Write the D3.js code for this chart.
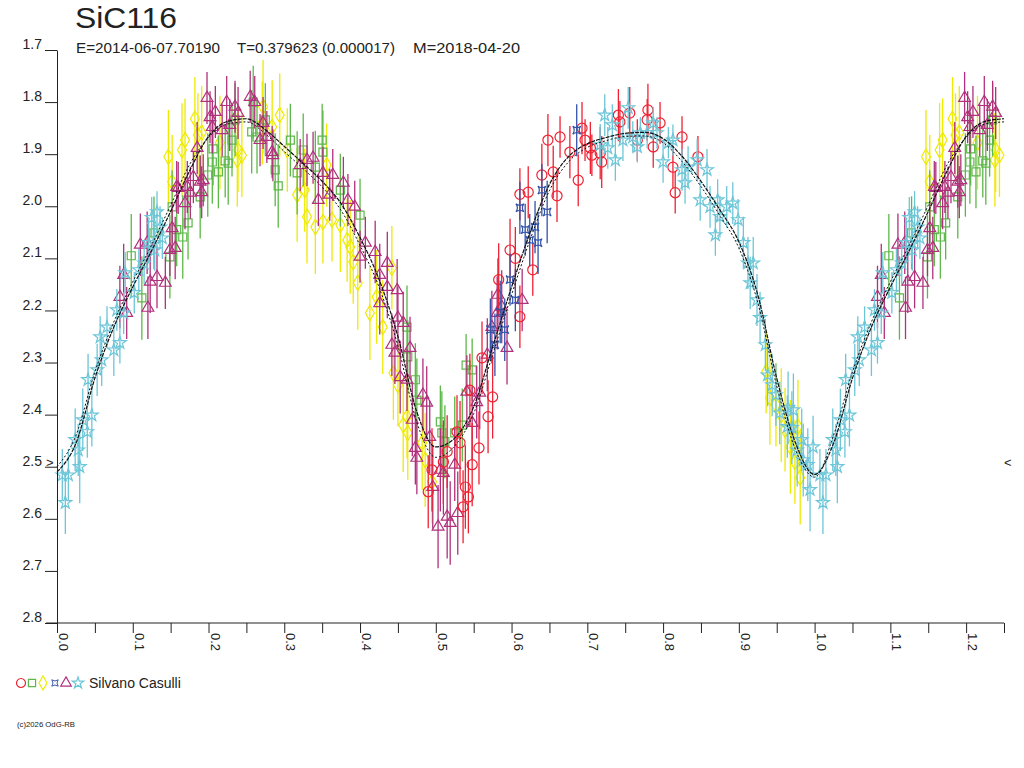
<!DOCTYPE html>
<html>
<head>
<meta charset="utf-8">
<script src="https://cdn.jsdelivr.net/npm/d3@7"></script>
<style>
  body { margin: 0; background: white; }
  svg text { font-family: "Liberation Sans", Arial, sans-serif; fill: #222; }
</style>
</head>
<body>
<svg id="chart" width="1024" height="768"></svg>
<script>
// Light curve data: [phase, magnitude, error]
var obsRed = [
  [0.598,2.084,0.06],[0.628,2.122,0.05],[0.583,2.141,0.07],[0.611,2.212,0.06],[0.561,2.291,0.07],
  [0.575,2.366,0.08],[0.569,2.404,0.07],[0.557,2.464,0.07],[0.548,2.496,0.08],[0.528,2.433,0.07],
  [0.532,2.454,0.08],[0.543,2.558,0.07],[0.539,2.539,0.08],[0.490,2.548,0.07],[0.495,2.506,0.08],
  [0.510,2.491,0.08],[0.515,2.471,0.07],[0.536,2.577,0.07],[0.622,1.973,0.05],[0.640,1.940,0.06],
  [0.655,1.934,0.05],[0.660,1.980,0.05],[0.648,1.873,0.05],[0.664,1.867,0.04],[0.677,1.896,0.05],
  [0.693,1.850,0.05],[0.688,1.950,0.05],[0.697,1.873,0.04],[0.704,1.888,0.05],[0.706,1.902,0.04],
  [0.719,1.915,0.05],[0.741,1.825,0.05],[0.743,1.838,0.04],[0.756,1.821,0.05],[0.780,1.815,0.05],
  [0.779,1.834,0.04],[0.796,1.840,0.04],[0.766,1.873,0.04],[0.787,1.886,0.04],[0.813,1.925,0.04],
  [0.825,1.867,0.04],[0.846,1.905,0.04],[0.816,1.974,0.04],[0.717,1.898,0.05],[0.611,1.977,0.05],
  [0.545,2.353,0.07],[0.605,2.100,0.06]
];
var obsGreen = [
  [0.098,2.095,0.08],[0.112,2.176,0.08],[0.128,2.051,0.07],[0.149,2.097,0.08],[0.158,2.045,0.07],
  [0.166,2.059,0.08],[0.173,2.032,0.07],[0.189,1.982,0.08],[0.206,1.890,0.07],[0.205,1.915,0.08],
  [0.213,1.934,0.07],[0.199,1.940,0.08],[0.222,1.913,0.07],[0.226,1.917,0.08],[0.231,1.873,0.07],
  [0.235,1.834,0.07],[0.257,1.857,0.08],[0.259,1.800,0.07],[0.264,1.867,0.07],[0.292,1.961,0.08],
  [0.288,1.930,0.07],[0.308,1.873,0.07],[0.317,1.936,0.08],[0.325,1.892,0.07],[0.350,1.873,0.07],
  [0.351,1.896,0.08],[0.152,2.001,0.07],[0.275,1.834,0.07],[0.341,1.925,0.07],[0.374,1.969,0.07],
  [0.400,2.017,0.07],[0.462,2.232,0.08],[0.463,2.289,0.07],[0.473,2.333,0.07],[0.475,2.372,0.08],
  [0.506,2.414,0.07],[0.508,2.435,0.08],[0.512,2.452,0.07],[0.540,2.305,0.06],[0.548,2.314,0.06],
  [0.525,2.435,0.07],[0.535,2.420,0.07]
];
var obsYellow = [
  [0.147,1.905,0.09],[0.182,1.832,0.08],[0.191,1.859,0.09],[0.169,1.873,0.08],[0.165,1.892,0.09],
  [0.152,1.953,0.09],[0.186,1.863,0.08],[0.215,1.878,0.09],[0.239,1.892,0.08],[0.238,1.911,0.09],
  [0.244,1.902,0.08],[0.272,1.809,0.09],[0.294,1.825,0.08],[0.271,1.840,0.08],[0.284,1.848,0.09],
  [0.304,1.892,0.08],[0.317,1.978,0.09],[0.327,1.969,0.08],[0.356,1.921,0.08],[0.330,2.020,0.09],
  [0.341,2.040,0.09],[0.351,2.030,0.08],[0.363,2.026,0.08],[0.374,2.036,0.09],[0.383,2.065,0.08],
  [0.387,2.078,0.09],[0.391,2.107,0.08],[0.397,2.147,0.09],[0.413,2.205,0.09],[0.442,2.118,0.08],
  [0.422,2.174,0.09],[0.430,2.232,0.09],[0.444,2.320,0.09],[0.450,2.343,0.08],[0.457,2.420,0.09],
  [0.463,2.435,0.09],[0.462,2.404,0.08],[0.482,2.454,0.09],[0.486,2.487,0.09],[0.495,2.529,0.08],
  [0.936,2.318,0.08],[0.941,2.368,0.09],[0.949,2.381,0.08],[0.956,2.401,0.09],[0.968,2.462,0.09],
  [0.974,2.491,0.08],[0.981,2.521,0.09],[0.978,2.423,0.09],[0.961,2.429,0.08]
];
var obsBlue = [
  [0.686,1.854,0.05],[0.640,1.969,0.05],[0.611,2.003,0.05],[0.647,2.011,0.06],[0.631,2.040,0.05],
  [0.635,2.070,0.06],[0.618,2.045,0.05],[0.585,2.203,0.06],[0.591,2.237,0.06],[0.578,2.266,0.06],
  [0.598,2.141,0.05],[0.624,2.065,0.05],[0.605,2.180,0.06],[0.572,2.237,0.06]
];
var obsPurple = [
  [0.110,2.074,0.06],[0.119,2.070,0.06],[0.123,2.145,0.06],[0.132,2.136,0.06],[0.143,2.147,0.05],
  [0.120,2.195,0.06],[0.088,2.132,0.06],[0.083,2.174,0.06],[0.092,2.205,0.05],[0.149,2.084,0.05],
  [0.156,2.080,0.06],[0.152,2.042,0.05],[0.169,1.994,0.05],[0.176,1.974,0.05],[0.158,1.963,0.05],
  [0.191,1.973,0.05],[0.189,1.953,0.05],[0.198,1.792,0.05],[0.224,1.800,0.05],[0.209,1.819,0.05],
  [0.202,1.829,0.05],[0.235,1.809,0.05],[0.255,1.790,0.05],[0.261,1.800,0.05],[0.239,1.821,0.05],
  [0.218,1.854,0.05],[0.205,1.848,0.05],[0.228,1.844,0.05],[0.185,1.888,0.05],[0.172,1.963,0.05],
  [0.180,1.944,0.05],[0.193,1.950,0.05],[0.160,1.965,0.05],[0.272,1.840,0.05],[0.268,1.873,0.05],
  [0.277,1.867,0.05],[0.285,1.902,0.05],[0.321,1.921,0.05],[0.330,1.911,0.05],[0.338,1.907,0.05],
  [0.351,1.936,0.05],[0.364,1.940,0.05],[0.378,1.955,0.05],[0.345,1.988,0.05],[0.360,1.978,0.05],
  [0.284,1.896,0.05],[0.384,1.988,0.05],[0.393,2.001,0.05],[0.407,2.070,0.05],[0.420,2.088,0.06],
  [0.400,2.097,0.05],[0.436,2.109,0.06],[0.426,2.132,0.06],[0.436,2.155,0.06],[0.426,2.186,0.06],
  [0.449,2.161,0.06],[0.450,2.214,0.06],[0.457,2.224,0.06],[0.442,2.266,0.06],[0.446,2.281,0.06],
  [0.466,2.272,0.06],[0.453,2.328,0.07],[0.462,2.333,0.06],[0.483,2.362,0.07],[0.488,2.377,0.07],
  [0.469,2.410,0.07],[0.473,2.464,0.07],[0.475,2.483,0.07],[0.492,2.443,0.07],[0.506,2.506,0.08],
  [0.496,2.539,0.08],[0.510,2.512,0.08],[0.503,2.615,0.08],[0.515,2.596,0.08],[0.519,2.608,0.08],
  [0.525,2.496,0.07],[0.529,2.589,0.08],[0.541,2.356,0.07],[0.548,2.416,0.07],[0.554,2.376,0.07],
  [0.558,2.358,0.07],[0.568,2.285,0.07],[0.574,2.232,0.07],[0.581,2.205,0.07],[0.587,2.193,0.07],
  [0.614,2.180,0.06],[0.594,2.272,0.07],[0.582,2.170,0.07]
];
var obsCyan = [
  [0.007,2.516,0.05],[0.011,2.569,0.06],[0.015,2.516,0.05],[0.024,2.448,0.06],[0.028,2.468,0.05],
  [0.030,2.500,0.07],[0.034,2.410,0.06],[0.040,2.433,0.05],[0.046,2.401,0.06],[0.041,2.333,0.05],
  [0.053,2.314,0.05],[0.059,2.295,0.05],[0.057,2.251,0.04],[0.066,2.232,0.04],[0.075,2.276,0.05],
  [0.083,2.262,0.04],[0.079,2.199,0.04],[0.088,2.205,0.04],[0.090,2.128,0.04],[0.102,2.166,0.04],
  [0.108,2.122,0.04],[0.115,2.109,0.04],[0.121,2.070,0.04],[0.128,2.070,0.04],[0.125,2.022,0.04],
  [0.132,2.011,0.04],[0.136,2.040,0.04],[0.139,2.061,0.04],[0.129,2.084,0.04],
  [0.723,1.825,0.04],[0.754,1.811,0.04],[0.733,1.844,0.04],[0.717,1.882,0.04],[0.727,1.888,0.04],
  [0.737,1.911,0.04],[0.747,1.873,0.04],[0.760,1.867,0.03],[0.770,1.859,0.03],[0.779,1.859,0.03],
  [0.787,1.840,0.03],[0.792,1.859,0.03],[0.766,1.886,0.03],[0.800,1.915,0.04],[0.807,1.878,0.03],
  [0.813,1.873,0.03],[0.825,1.930,0.04],[0.833,1.925,0.04],[0.829,1.955,0.04],[0.845,1.911,0.04],
  [0.858,1.930,0.04],[0.849,1.988,0.04],[0.862,2.001,0.04],[0.872,1.988,0.04],[0.884,2.001,0.04],
  [0.875,2.020,0.04],[0.869,2.055,0.04],[0.892,1.994,0.04],[0.899,2.026,0.04],[0.906,2.070,0.05],
  [0.912,2.109,0.05],[0.919,2.109,0.05],[0.915,2.147,0.05],[0.924,2.180,0.05],[0.928,2.214,0.05],
  [0.935,2.266,0.05],[0.938,2.324,0.06],[0.944,2.343,0.06],[0.949,2.362,0.06],[0.954,2.397,0.06],
  [0.965,2.387,0.07],[0.972,2.391,0.07],[0.964,2.423,0.06],[0.970,2.425,0.07],[0.983,2.448,0.06],
  [0.977,2.468,0.07],[0.985,2.487,0.07],[0.991,2.496,0.07],[0.994,2.544,0.08],[0.998,2.462,0.06]
];

// fitted curves, sampled every 0.025 in phase
var curvePhase = [0.000,0.025,0.050,0.075,0.100,0.125,0.150,0.175,0.200,0.225,0.250,0.275,0.300,0.325,
  0.350,0.375,0.400,0.425,0.450,0.475,0.500,0.525,0.550,0.575,0.600,0.625,0.650,0.675,0.700,0.725,
  0.750,0.775,0.800,0.825,0.850,0.875,0.900,0.925,0.950,0.975,1.000];
var curveA = [2.510,2.455,2.330,2.232,2.155,2.085,2.010,1.932,1.866,1.837,1.832,1.853,1.885,1.918,
  1.952,1.995,2.060,2.140,2.250,2.395,2.462,2.445,2.385,2.270,2.155,2.048,1.958,1.905,1.880,1.868,
  1.860,1.858,1.870,1.904,1.952,2.007,2.068,2.170,2.330,2.455,2.515];
var curveB = [2.500,2.440,2.318,2.222,2.145,2.074,1.998,1.920,1.868,1.842,1.838,1.861,1.895,1.928,
  1.963,2.008,2.075,2.155,2.268,2.415,2.482,2.460,2.398,2.285,2.170,2.062,1.970,1.915,1.887,1.874,
  1.866,1.865,1.878,1.914,1.962,2.018,2.080,2.185,2.345,2.468,2.520];

var magTicks = [1.7,1.8,1.9,2.0,2.1,2.2,2.3,2.4,2.5,2.6,2.7,2.8];
var phaseTicks = [0.0,0.1,0.2,0.3,0.4,0.5,0.6,0.7,0.8,0.9,1.0,1.1,1.2];
var phaseLabels = ["0.0","0.1","0.2","0.3","0.4","0.5","0.6","0.7","0.8","0.9","1.0","1.1","1.2"];
var minorTicks = [0.05,0.15,0.25,0.35,0.45,0.55,0.65,0.75,0.85,0.95,1.05,1.15,1.25];
var meanMag = 2.49;

var title = "SiC116";
var subtitle = ["E=2014-06-07.70190", "T=0.379623 (0.000017)", "M=2018-04-20"];
var observer = "Silvano Casulli";

var svg = d3.select("#chart");
var x = d3.scaleLinear().domain([0, 1.25]).range([57, 1004]);
var y = d3.scaleLinear().domain([1.7, 2.8]).range([50, 623]);

// repeat the first quarter of the cycle after phase 1
function extend(data) {
  var out = data.slice();
  data.forEach(function(d) {
    if (d[0] + 1 <= 1.25) out.push([d[0] + 1, d[1], d[2]]);
  });
  return out;
}

var astroid = "M-4,-4Q0,-1 4,-4Q1,0 4,4Q0,1 -4,4Q-1,0 -4,-4Z";
var groups = [
  { data: obsYellow, color: "#eeea00", shape: d3.symbolDiamond, size: 70 },
  { data: obsGreen,  color: "#5cb848", shape: d3.symbolSquare, size: 64 },
  { data: obsPurple, color: "#b0307c", shape: d3.symbolTriangle, size: 60 },
  { data: obsRed,    color: "#ee2233", shape: d3.symbolCircle, size: 80 },
  { data: obsBlue,   color: "#3353a8", shape: null, size: 0 },
  { data: obsCyan,   color: "#6cc6d8", shape: d3.symbolStar, size: 50 }
];

function symbolPath(g, scale) {
  if (!g.shape) return astroid;
  return d3.symbol().type(g.shape).size(g.size * (scale || 1))();
}

groups.forEach(function(g) {
  var pts = extend(g.data);
  var layer = svg.append("g");
  layer.selectAll("line").data(pts).enter().append("line")
    .attr("x1", d => x(d[0])).attr("x2", d => x(d[0]))
    .attr("y1", d => y(d[1] - d[2])).attr("y2", d => y(d[1] + d[2]))
    .attr("stroke", g.color).attr("stroke-width", 1.3);
  layer.selectAll("path").data(pts).enter().append("path")
    .attr("d", symbolPath(g))
    .attr("transform", d => "translate(" + x(d[0]) + "," + y(d[1]) + ")")
    .attr("fill", "none").attr("stroke", g.color).attr("stroke-width", 1.2);
});

// fit curves
function curvePoints(vals) {
  var pts = curvePhase.map((p, i) => [p, vals[i]]);
  curvePhase.forEach(function(p, i) {
    if (p > 0 && p + 1 <= 1.25) pts.push([p + 1, vals[i]]);
  });
  return pts;
}
var line = d3.line().x(d => x(d[0])).y(d => y(d[1])).curve(d3.curveMonotoneX);
svg.append("path").datum(curvePoints(curveA)).attr("d", line)
  .attr("fill", "none").attr("stroke", "#111").attr("stroke-width", 1.2).attr("stroke-dasharray", "4,1");
svg.append("path").datum(curvePoints(curveB)).attr("d", line)
  .attr("fill", "none").attr("stroke", "#111").attr("stroke-width", 1).attr("stroke-dasharray", "2,2");

// y axis
var yAxis = svg.append("g").attr("transform", "translate(57,0)")
  .call(d3.axisLeft(y).tickValues(magTicks).tickFormat(d3.format(".1f")).tickSize(12).tickSizeOuter(0));
yAxis.select(".domain").attr("stroke", "#222");
yAxis.selectAll(".tick line").attr("stroke", "#222");
yAxis.selectAll(".tick text").attr("x", -15).attr("dy", "-0.1em")
  .style("font-size", "14px").style("font-family", "Liberation Sans, Arial, sans-serif");

// x axis
var xAxis = svg.append("g").attr("transform", "translate(0,623)")
  .call(d3.axisBottom(x).tickValues(phaseTicks.concat(minorTicks)).tickFormat("").tickSize(10).tickSizeOuter(0));
xAxis.select(".domain").remove();
xAxis.selectAll(".tick line").attr("stroke", "#222");
svg.append("line").attr("x1", 46).attr("x2", x(1.25)).attr("y1", 623).attr("y2", 623).attr("stroke", "#222");
svg.append("g").selectAll("text").data(phaseTicks).enter().append("text")
  .attr("transform", d => "translate(" + (x(d) + 2) + ",633) rotate(90)")
  .style("font-size", "13px")
  .text((d, i) => phaseLabels[i]);

// mean magnitude markers
svg.append("text").attr("x", 46).attr("y", y(meanMag) + 5).style("font-size", "13px").text(">");
svg.append("text").attr("x", 1004).attr("y", y(meanMag) + 5).style("font-size", "13px").text("<");

// titles
svg.append("text").attr("x", 75).attr("y", 28).style("font-size", "29px")
  .attr("textLength", 102).attr("lengthAdjust", "spacingAndGlyphs").text(title);
var subX = [76, 237, 413];
var subW = [144, 158, 107];
svg.selectAll(".sub").data(subtitle).enter().append("text")
  .attr("x", (d, i) => subX[i]).attr("y", 53).style("font-size", "14px")
  .attr("textLength", (d, i) => subW[i]).attr("lengthAdjust", "spacingAndGlyphs")
  .text(d => d);

// legend
var legendX = [21, 32, 43, 55, 66, 78];
var legendOrder = [3, 1, 0, 4, 2, 5];
legendOrder.forEach(function(gi, i) {
  var g = groups[gi];
  svg.append("path").attr("d", symbolPath(g, 0.8))
    .attr("transform", "translate(" + legendX[i] + ",683)" + (g.shape ? "" : " scale(0.8)"))
    .attr("fill", "none").attr("stroke", g.color).attr("stroke-width", 1.2);
});
svg.append("text").attr("x", 89).attr("y", 688).style("font-size", "14px").text(observer);

svg.append("text").attr("x", 17).attr("y", 727).style("font-size", "8px")
  .attr("textLength", 58).attr("lengthAdjust", "spacingAndGlyphs").text("(c)2026 OdG-RB");
</script>
</body>
</html>
